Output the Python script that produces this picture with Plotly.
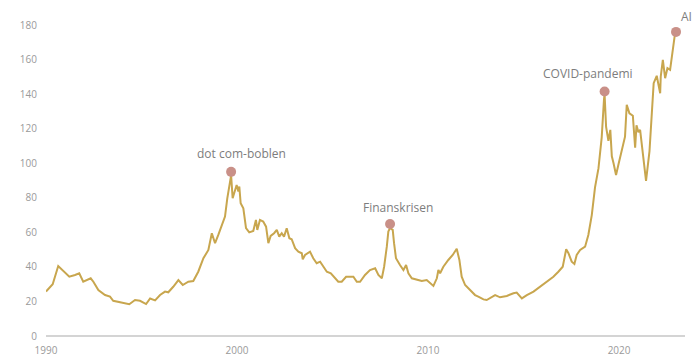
import plotly.graph_objects as go

# --- data ---
years = [
    1990.00, 1990.35, 1990.64, 1990.87, 1991.22, 1991.52, 1991.74, 1991.95, 1992.13, 1992.34,
    1992.48, 1992.74, 1993.09, 1993.35, 1993.52, 1993.87, 1994.19, 1994.36, 1994.66, 1994.92,
    1995.24, 1995.45, 1995.71, 1995.97, 1996.23, 1996.40, 1996.66, 1996.93, 1997.16, 1997.45,
    1997.71, 1997.97, 1998.24, 1998.50, 1998.68, 1998.85, 1999.02, 1999.20, 1999.37, 1999.49,
    1999.60, 1999.69, 1999.77, 1999.90, 1999.98, 2000.07, 2000.12, 2000.19, 2000.33, 2000.47,
    2000.64, 2000.85, 2000.99, 2001.06, 2001.20, 2001.37, 2001.52, 2001.64, 2001.76, 2001.94,
    2002.08, 2002.21, 2002.34, 2002.46, 2002.60, 2002.74, 2002.86, 2003.04, 2003.21, 2003.39,
    2003.44, 2003.56, 2003.82, 2003.99, 2004.17, 2004.35, 2004.52, 2004.70, 2004.91, 2005.13,
    2005.30, 2005.48, 2005.71, 2005.92, 2006.09, 2006.27, 2006.44, 2006.70, 2006.96, 2007.23,
    2007.40, 2007.58, 2007.70, 2007.84, 2007.92, 2008.01, 2008.15, 2008.22, 2008.32, 2008.53,
    2008.71, 2008.85, 2008.97, 2009.15, 2009.41, 2009.67, 2009.93, 2010.10, 2010.28, 2010.46,
    2010.54, 2010.63, 2010.80, 2011.06, 2011.29, 2011.50, 2011.64, 2011.76, 2011.94, 2012.20,
    2012.46, 2012.63, 2012.90, 2013.07, 2013.51, 2013.77, 2014.12, 2014.47, 2014.64, 2014.91,
    2015.17, 2015.52, 2015.86, 2016.21, 2016.56, 2016.82, 2017.05, 2017.23, 2017.35, 2017.52,
    2017.66, 2017.78, 2017.96, 2018.22, 2018.39, 2018.57, 2018.74, 2018.92, 2019.09, 2019.21,
    2019.24, 2019.32, 2019.44, 2019.54, 2019.62, 2019.71, 2019.84, 2019.96, 2020.14, 2020.23,
    2020.31, 2020.40, 2020.54, 2020.72, 2020.78, 2020.84, 2020.91, 2021.01, 2021.10, 2021.19,
    2021.31, 2021.41, 2021.59, 2021.71, 2021.81, 2021.97, 2022.06, 2022.15, 2022.18, 2022.29,
    2022.41, 2022.53, 2022.67, 2022.76, 2022.84, 2022.93,
]
values = [
    25.7, 30.0, 40.5, 38.2, 34.3, 35.3, 36.3, 31.4, 32.4, 33.4,
    31.4, 26.6, 23.7, 22.8, 20.4, 19.5, 18.4, 18.4, 20.8, 20.4,
    18.5, 21.7, 20.6, 23.7, 25.7, 25.3, 28.5, 32.4, 29.5, 31.4,
    31.8, 37.2, 45.0, 49.8, 59.5, 53.7, 58.5, 64.3, 69.1, 79.7,
    87.4, 93.0, 79.7, 85.5, 87.4, 83.6, 86.5, 76.8, 73.9, 62.4,
    60.0, 60.8, 67.2, 61.4, 67.2, 66.2, 63.3, 53.7, 57.9, 59.5,
    61.4, 57.5, 59.5, 57.5, 62.4, 56.6, 56.0, 50.8, 48.8, 47.9,
    44.4, 46.9, 48.8, 45.0, 42.1, 43.0, 40.1, 37.2, 36.3, 33.4,
    31.4, 31.4, 34.3, 34.3, 34.3, 31.4, 31.4, 35.3, 38.2, 39.2,
    35.3, 33.4, 40.1, 51.7, 60.4, 62.5, 61.4, 53.7, 45.0, 41.1,
    38.2, 41.1, 36.3, 33.4, 32.4, 31.8, 32.4, 30.5, 29.0, 33.4,
    38.2, 36.3, 40.1, 44.0, 46.9, 50.5, 44.0, 34.3, 29.5, 26.6,
    23.7, 22.8, 21.2, 20.8, 23.7, 22.4, 23.2, 24.7, 25.1, 21.8,
    23.7, 25.7, 28.5, 31.4, 34.3, 37.2, 40.1, 50.2, 47.9, 43.0,
    41.7, 46.9, 49.8, 51.7, 58.5, 70.0, 86.0, 97.0, 115.0, 137.0,
    140.0, 121.0, 113.0, 119.3, 104.0, 100.0, 93.2, 99.0, 107.7, 111.6,
    115.4, 133.8, 128.9, 127.5, 116.0, 109.0, 122.0, 118.0, 119.3, 111.6,
    99.0, 89.8, 106.8, 125.1, 146.3, 150.6, 146.3, 140.5, 150.1, 159.8,
    149.2, 155.0, 154.0, 161.7, 168.5, 175.3,
]

event_labels = ["dot com-boblen", "Finanskrisen", "COVID-pandemi", "AI"]
event_years = [1999.69, 2008.01, 2019.24, 2022.98]
event_values = [95.0, 64.8, 141.5, 176.0]

y_ticks = [0, 20, 40, 60, 80, 100, 120, 140, 160, 180]
x_ticks = [1990, 2000, 2010, 2020]
x_tick_labels = ["1990", "2000", "2010", "2020"]

# --- styling ---
LINE = "#c8a64e"
DOT = "#c99088"
TICK = "#9a9a9a"
TEXT = "#7d7d7d"
FONT = "Open Sans"

fig = go.Figure()
fig.add_trace(go.Scatter(
    x=years, y=values, mode="lines",
    line=dict(color=LINE, width=2), hoverinfo="skip", showlegend=False,
))
fig.add_trace(go.Scatter(
    x=event_years, y=event_values, mode="markers",
    marker=dict(color=DOT, size=10, line=dict(width=0)),
    cliponaxis=False, showlegend=False, hoverinfo="skip",
))

shifts = [(10, 18), (8, 17), (-17, 18), (10, 15)]
for lab, xv, yv, (dx, dy) in zip(event_labels, event_years, event_values, shifts):
    fig.add_annotation(
        x=xv, y=yv, xref="x", yref="y", text=lab, showarrow=False,
        xshift=dx, yshift=dy, font=dict(family=FONT, size=12, color=TEXT),
    )

# the page body adds an 8 px offset, so the figure is 8 px smaller than the window
fig.update_layout(
    width=692, height=350,
    margin=dict(l=38, r=15, t=17, b=22, autoexpand=False),
    paper_bgcolor="white", plot_bgcolor="white",
    showlegend=False,
    font=dict(family=FONT, color=TICK),
)
fig.update_xaxes(
    range=[1990, 2023.45], tickvals=x_ticks, ticktext=x_tick_labels,
    showgrid=False, zeroline=False, showline=False, automargin=False,
    tickfont=dict(family=FONT, size=10, color=TICK), ticks="",
    ticklabelstandoff=7,
)
fig.update_yaxes(
    range=[0, 180], tickvals=y_ticks, automargin=False,
    showgrid=False, zeroline=True, zerolinecolor="#d4d4d4", zerolinewidth=1.5,
    showline=False, ticks="", ticklabelstandoff=8,
    tickfont=dict(family=FONT, size=10, color=TICK),
)

fig.write_html("out.html")
